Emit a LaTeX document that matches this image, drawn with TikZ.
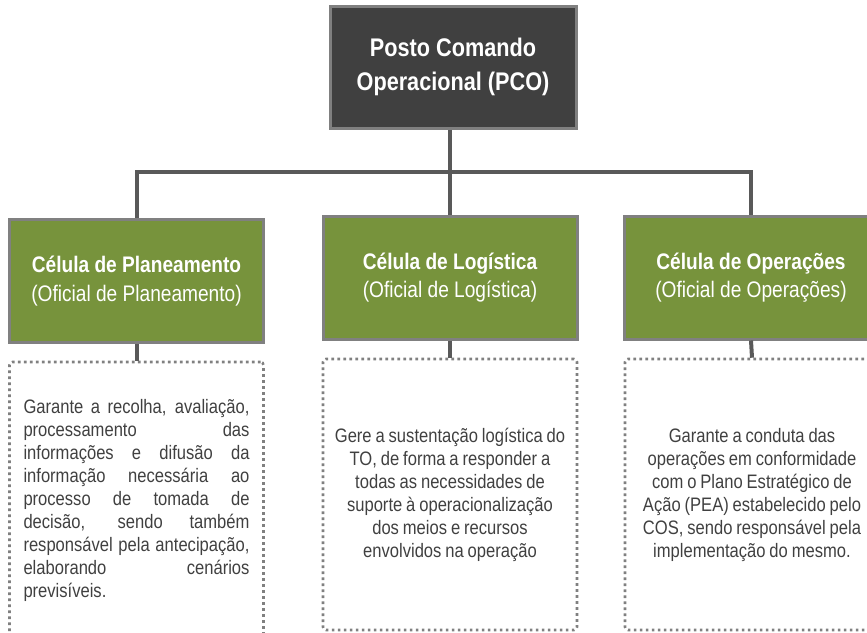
\documentclass[tikz,border=0pt]{standalone}
\usepackage{fontspec}
\setmainfont{Liberation Sans}[FakeStretch=0.85]
\usetikzlibrary{positioning}

\definecolor{pcofill}{HTML}{404040}
\definecolor{cellgreen}{HTML}{77933C}
\definecolor{framegray}{HTML}{808080}
\definecolor{linkgray}{HTML}{595959}
\definecolor{notetext}{HTML}{404040}

% one justified line of the left note
\newcommand{\jline}[1]{\makebox[226pt][s]{#1}\\}

\tikzset{
  pco/.style={draw=framegray, line width=3pt, fill=pcofill, text=white,
    minimum width=246pt, minimum height=122pt, align=center, inner sep=0pt,
    font=\fontsize{25.5}{34}\selectfont\bfseries},
  cell/.style={draw=framegray, line width=3pt, fill=cellgreen, text=white,
    minimum width=254pt, minimum height=123pt, align=center, inner sep=0pt,
    font=\fontsize{22.5}{28.5}\selectfont},
  note/.style={draw=framegray, line width=2.6pt, dash pattern=on 2.6pt off 3.4pt,
    rounded corners=3pt, minimum width=254pt, inner sep=0pt, text=notetext,
    font=\fontsize{19.5}{23}\selectfont,
    execute at begin node={\spaceskip=0.2em plus 0.1em\relax}},
  link/.style={draw=linkgray, line width=4pt},
}

\begin{document}
\begin{tikzpicture}[x=1pt, y=-1pt]
\useasboundingbox (0,0) rectangle (867,632);
\clip (0,0) rectangle (867,632);

% top
\node[pco] (pco) at (453,67) {Posto Comando\\Operacional (PCO)};

% the three cells
\node[cell] (plan) at (136.5,281) {{\bfseries Célula de Planeamento}\\(Oficial de Planeamento)};
\node[cell] (log) at (450,277.5) {{\bfseries Célula de Logística}\\(Oficial de Logística)};
\node[cell] (ops) at (751,277.5) {{\bfseries Célula de Operações}\\(Oficial de Operações)};

% what each cell does
\node[note, minimum height=276pt, text width=226pt, align=left] (plannote) at (136.5,500) {%
  \jline{Garante a recolha, avaliação,}
  \jline{processamento das}
  \jline{informações e difusão da}
  \jline{informação necessária ao}
  \jline{processo de tomada de}
  \jline{decisão, sendo também}
  \jline{responsável pela antecipação,}
  \jline{elaborando cenários}
  previsíveis.};
\node[note, minimum height=271pt, align=center] (lognote) at (450,494.5) {%
  Gere a sustentação logística do\\
  TO, de forma a responder a\\
  todas as necessidades de\\
  suporte à operacionalização\\
  dos meios e recursos\\
  envolvidos na operação};
\node[note, minimum height=271pt, align=center] (opsnote) at (752,494.5) {%
  Garante a conduta das\\
  operações em conformidade\\
  com o Plano Estratégico de\\
  Ação (PEA) estabelecido pelo\\
  COS, sendo responsável pela\\
  implementação do mesmo.};

% connectors
\coordinate (bar) at (450,172);
\draw[link] (pco.south -| log.north) -- (log.north);
\draw[link] (plan.north) |- (bar) -| (ops.north);
\draw[link] (plan.south) -- (plannote.north);
\draw[link] (log.south) -- (lognote.north);
\draw[link] (ops.south) -- (opsnote.north);
\end{tikzpicture}
\end{document}
